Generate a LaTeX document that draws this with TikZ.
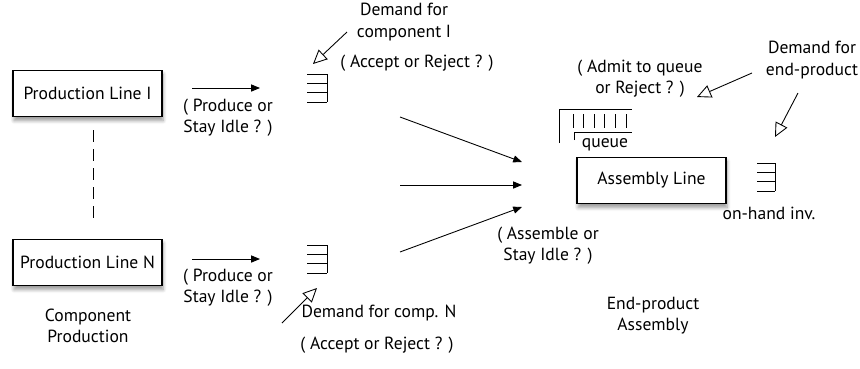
\documentclass[tikz,border=0pt]{standalone}
\usepackage{fontspec}
\setmainfont{PT Sans}
\usetikzlibrary{arrows.meta}
\usetikzlibrary{shadows.blur}

\tikzset{
  linebox/.style={draw=black,fill=white,line width=0.6pt,
    minimum width=2.98cm,minimum height=0.93cm,
    font=\fontsize{10}{12}\selectfont,
    blur shadow={shadow xshift=0.6pt,shadow yshift=-2.2pt,shadow blur steps=6}},
  flow/.style={-{Triangle[length=5pt,width=4pt]},line width=0.5pt},
  demand/.style={-{Triangle[open,length=8pt,width=7.5pt]},line width=0.5pt},
  lbl/.style={align=center,font=\fontsize{10}{12}\selectfont,inner sep=0pt},
}

\begin{document}
\begin{tikzpicture}[x=0.02cm,y=-0.02cm]
\useasboundingbox (0,0) rectangle (860,369);

% stock of parts: four shelves closed on the right
\newcommand{\stock}[4]{
  \coordinate (#1) at (#2,#3);
  \foreach \k in {0,1,2,3}
    \draw[line width=0.5pt] (#2,#3+\k*9.4) -- (#2+#4,#3+\k*9.4);
  \draw[line width=0.5pt] (#2+#4,#3) -- (#2+#4,#3+28.2);
}

% component production
\node[linebox] (line1) at (87.5,93.5) {Production Line I};
\node[linebox] (lineN) at (87.5,262.5) {Production Line N};
\draw[dash pattern=on 6.8pt off 4pt,line width=0.5pt]
  ([xshift=0.11cm,yshift=-0.26cm]line1.south) -- ([xshift=0.11cm,yshift=0.38cm]lineN.north);
\node[lbl] (comp) at (88,326) {Component\\Production};

\coordinate (p1s) at (192,88);
\coordinate (p1e) at (260,88);
\draw[flow] (p1s) -- (p1e);
\node[lbl] (idle1) at (228,118) {( Produce or\\Stay Idle ? )};

\coordinate (pNs) at (192,259);
\coordinate (pNe) at (260,259);
\draw[flow] (pNs) -- (pNe);
\node[lbl] (idleN) at (228,288) {( Produce or\\Stay Idle ? )};

\stock{buf1}{307}{74}{20}
\stock{bufN}{307}{245}{20}

% demand for the components
\node[lbl] (dem1) at (404,22) {Demand for\\component I};
\node[lbl] (acc1) at (417,63) {( Accept or Reject ? )};
\coordinate (d1s) at (347,32);
\coordinate (d1e) at (313,64);
\draw[demand] (d1s) -- (d1e);

\node[lbl] (demN) at (379,313) {Demand for comp. N};
\node[lbl] (accN) at (377,345) {( Accept or Reject ? )};
\coordinate (dNs) at (282,323);
\coordinate (dNe) at (317,288);
\draw[demand] (dNs) -- (dNe);

% components flowing into assembly
\coordinate (a1s) at (400,117);
\coordinate (a1e) at (522,162);
\coordinate (a2s) at (400,185);
\coordinate (a2e) at (522,185);
\coordinate (a3s) at (400,252);
\coordinate (a3e) at (522,207);
\draw[flow] (a1s) -- (a1e);
\draw[flow] (a2s) -- (a2e);
\draw[flow] (a3s) -- (a3e);
\node[lbl] (asm) at (548,246) {( Assemble or\\Stay Idle ? )};

% end-product assembly
\node[linebox] (assembly) at (651.5,180.5) {Assembly Line};

% queue of orders
\draw[line width=0.5pt] (559,143) -- (559,109) -- (632,109);
\foreach \i in {0,...,5}
  \draw[line width=0.5pt] (573+\i*10.6,114) -- (573+\i*10.6,128);
\draw[line width=0.5pt] (574,140) -- (574,132) -- (632,132);
\node[lbl] (queue) at (605,145) {queue};

\stock{onhand}{757}{163}{18}
\node[lbl] (inv) at (769,213) {on-hand inv.};

\node[lbl] (admit) at (640,79) {( Admit to queue\\or Reject ? )};
\node[lbl] (demE) at (812,60) {Demand for\\end-product};
\coordinate (e1s) at (752,73);
\coordinate (e1e) at (697,97);
\coordinate (e2s) at (798,93);
\coordinate (e2e) at (775,137);
\draw[demand] (e1s) -- (e1e);
\draw[demand] (e2s) -- (e2e);

\node[lbl] (endp) at (653,316) {End-product\\Assembly};

\end{tikzpicture}
\end{document}
